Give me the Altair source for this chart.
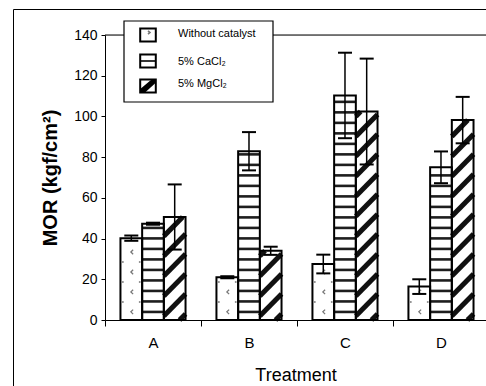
import json
import altair as alt
import pandas as pd

# ---------------- data ----------------
treatments = ["A", "B", "C", "D"]
series_names = ["Without catalyst", "5% CaCl₂", "5% MgCl₂"]
without_catalyst = [40.2, 21.0, 27.5, 16.4]
cacl2 = [47.3, 82.9, 110.3, 75.0]
mgcl2 = [50.6, 34.0, 102.4, 98.2]
err_without = [1.3, 0.5, 4.6, 3.6]
err_cacl2 = [0.5, 9.4, 21.0, 7.8]
err_mgcl2 = [16.0, 2.0, 26.0, 11.4]

rows = []
for si, (name, vals, errs) in enumerate(
    zip(series_names, [without_catalyst, cacl2, mgcl2], [err_without, err_cacl2, err_mgcl2])
):
    for ti, t in enumerate(treatments):
        rows.append({"Treatment": t, "Series": name, "ti": ti, "si": si,
                     "MOR": vals[ti], "err": errs[ti]})
df = pd.DataFrame(rows)
legend_df = pd.DataFrame({"Series": series_names, "si": list(range(len(series_names)))})

# ---------------- style constants ----------------
BW = 0.226          # bar width (category units)
CAP = 0.073         # half cap width
FONT = "Liberation Sans"
W, H = 381, 285

label_expr = ("datum.value % 1 == 0.5 ? " + json.dumps(treatments)
              + "[floor(datum.value)] : ''")

x_axis = alt.Axis(
    title="Treatment", values=[0, 0.5, 1, 1.5, 2, 2.5, 3, 3.5],
    labelExpr=label_expr, grid=False, tickSize=6, tickColor="black",
    tickOpacity={"condition": {"test": "datum.value % 1 == 0", "value": 1}, "value": 0},
    domainColor="black", labelFontSize=15, labelPadding=9, labelColor="black",
    titleFontSize=18, titleFontWeight="normal", titlePadding=16, titleColor="black",
)
y_axis = alt.Axis(
    title="MOR (kgf/cm²)", values=[0, 20, 40, 60, 80, 100, 120, 140], grid=False,
    tickSize=4, tickColor="black", domainColor="black", labelFontSize=14,
    labelPadding=4, labelColor="black", titleFontSize=20, titleFontWeight="bold",
    titlePadding=13, titleColor="black",
)
x_scale = alt.Scale(domain=[0, 3.969], nice=False, zero=False)
y_scale = alt.Scale(domain=[0, 140], nice=False)


def X(f):
    return alt.X(f + ":Q", scale=x_scale, axis=x_axis)


def Y(f):
    return alt.Y(f + ":Q", scale=y_scale, axis=y_axis)


base = alt.Chart(df).transform_calculate(
    xl=f"datum.ti + 0.5 + (datum.si - 1.5) * {BW}",
).transform_calculate(
    xr=f"datum.xl + {BW}",
    xc=f"datum.xl + {BW / 2}",
    lo="datum.MOR - datum.err",
    hi="datum.MOR + datum.err",
)

# white bar bodies
bars_fill = base.mark_rect(fill="white", stroke=None).encode(
    x=X("xl"), x2="xr:Q", y=Y("MOR"), y2=alt.datum(0))

# horizontal stripes for CaCl2
P_H = 5.16
h_stripes = base.transform_filter("datum.si == 1").transform_calculate(
    seq=f"sequence(1, ceil(datum.MOR / {P_H}))"
).transform_flatten(["seq"]).transform_calculate(
    ys=f"datum.seq * {P_H} - 1.2"
).transform_filter("datum.ys < datum.MOR - 1").mark_rule(
    stroke="#1e1e1e", strokeWidth=2.6
).encode(x=X("xl"), x2="xr:Q", y=Y("ys"))

# diagonal stripes for MgCl2
P_D, R_D = 9.8, 10.8
d_stripes = base.transform_filter("datum.si == 2").transform_calculate(
    seq=f"sequence(0, ceil((datum.MOR + {R_D}) / {P_D}) + 1)"
).transform_flatten(["seq"]).transform_calculate(
    y0=f"datum.seq * {P_D} - {R_D} + 3"
).transform_calculate(
    t0=f"datum.y0 < 0 ? -datum.y0 / {R_D} : 0",
    t1=f"datum.y0 + {R_D} > datum.MOR ? (datum.MOR - datum.y0) / {R_D} : 1",
).transform_filter("datum.t1 > datum.t0").transform_calculate(
    xs=f"datum.xl + datum.t0 * {BW}",
    xe=f"datum.xl + datum.t1 * {BW}",
    ys=f"datum.y0 + datum.t0 * {R_D}",
    ye=f"datum.y0 + datum.t1 * {R_D}",
).mark_rule(stroke="#111111", strokeWidth=5, strokeCap="butt").encode(
    x=X("xs"), x2="xe:Q", y=Y("ys"), y2="ye:Q")

# sparse dotted pattern for "Without catalyst"
P_W = 9.8
dots_src = base.transform_filter("datum.si == 0").transform_calculate(
    seq=f"sequence(0, ceil(datum.MOR / {P_W}) + 1)"
).transform_flatten(["seq"])
chevrons = dots_src.transform_calculate(
    yc=f"datum.seq * {P_W} + 4", xcc=f"datum.xc + 0.005"
).transform_filter("datum.yc < datum.MOR - 2").mark_point(
    shape="M0.6,-1L-0.4,0L0.6,1", size=20, stroke="#777777", strokeWidth=1.3,
    filled=False, opacity=1
).encode(x=X("xcc"), y=Y("yc"))
edge_dots = dots_src.transform_calculate(
    yd=f"datum.seq * {P_W} + 8.9"
).transform_fold(["xl", "xr"], as_=["side", "xv"]).transform_calculate(
    xd="datum.side == 'xl' ? datum.xv + 0.025 : datum.xv - 0.025"
).transform_filter("datum.yd < datum.MOR - 2").mark_point(
    shape="circle", size=4, filled=True, fill="#888888", stroke=None, opacity=1
).encode(x=X("xd"), y=Y("yd"))

# bar outlines
bars_outline = base.mark_rect(fill="transparent", stroke="black", strokeWidth=2).encode(
    x=X("xl"), x2="xr:Q", y=Y("MOR"), y2=alt.datum(0))

# error bars
err_line = base.mark_rule(stroke="black", strokeWidth=1.5).encode(
    x=X("xc"), y=Y("lo"), y2="hi:Q")
err_caps = base.transform_fold(["lo", "hi"], as_=["end", "yv"]).transform_calculate(
    c0=f"datum.xc - {CAP}", c1=f"datum.xc + {CAP}"
).mark_rule(stroke="black", strokeWidth=2).encode(
    x=X("c0"), x2="c1:Q", y=Y("yv"))

# frame lines (plot area top border and outer chart frame)
one = pd.DataFrame({"k": [0]})
plot_top = alt.Chart(one).mark_rule(stroke="black", strokeWidth=1).encode(
    x=alt.value(0), x2=alt.value(W), y=alt.value(0))
frame_left = alt.Chart(one).mark_rule(stroke="black", strokeWidth=1).encode(
    x=alt.value(-91.5), y=alt.value(-25.5), y2=alt.value(360))
frame_top = alt.Chart(one).mark_rule(stroke="black", strokeWidth=1).encode(
    x=alt.value(-91.5), x2=alt.value(W + 5), y=alt.value(-25.5))

# ---------------- legend (drawn as a boxed key) ----------------
LEG_SYM_X, LEG_TXT_X = 43, 73
sym_rows = [0, 26, 51]
txt_rows = [-1.5, 26.5, 48.5]
box_paths = "M-1.2,-1H1.2V1H-1.2Z"
inner_paths = [
    ("M0.0,-0.65L0.3,-0.4L0.0,-0.15", "#777777", False),
    ("M-1.2,0H1.2", "black", False),
    ("M-1.2,1L-1.2,0.45L0.55,-1L1.2,-1L1.2,-0.5L-0.45,1Z", "black", True),
]
legend_box = alt.Chart(one).mark_rect(fill="white", stroke="black", strokeWidth=1.2).encode(
    x=alt.value(19), x2=alt.value(168), y=alt.value(-14), y2=alt.value(67))
legend_layers = [legend_box]
for i, name in enumerate(series_names):
    row = alt.Chart(legend_df).transform_filter(f"datum.si == {i}")
    legend_layers.append(row.mark_point(
        shape=box_paths, size=169, filled=True, fill="white", stroke="black",
        strokeWidth=2, opacity=1).encode(x=alt.value(LEG_SYM_X), y=alt.value(sym_rows[i])))
    path, col, filled = inner_paths[i]
    if filled:
        inner = row.mark_point(shape=path, size=169, filled=True, fill=col,
                               stroke=None, opacity=1)
    else:
        inner = row.mark_point(shape=path, size=169, filled=False, stroke=col,
                               strokeWidth=1.6, opacity=1)
    legend_layers.append(inner.encode(x=alt.value(LEG_SYM_X), y=alt.value(sym_rows[i])))
    legend_layers.append(row.mark_text(
        align="left", baseline="middle", fontSize=11, color="black", font=FONT
    ).encode(text="Series:N", x=alt.value(LEG_TXT_X), y=alt.value(txt_rows[i])))

chart = alt.layer(
    bars_fill, h_stripes, d_stripes, chevrons, edge_dots, bars_outline,
    err_line, err_caps, plot_top, frame_left, frame_top, *legend_layers,
).properties(
    width=W, height=H,
    padding={"left": 105, "top": 35, "right": 0, "bottom": 66},
    autosize=alt.AutoSizeParams(type="none"),
    background="white",
).configure_view(stroke=None).configure(font=FONT)

chart.save("out.html", embed_options={"renderer": "svg", "actions": False})
